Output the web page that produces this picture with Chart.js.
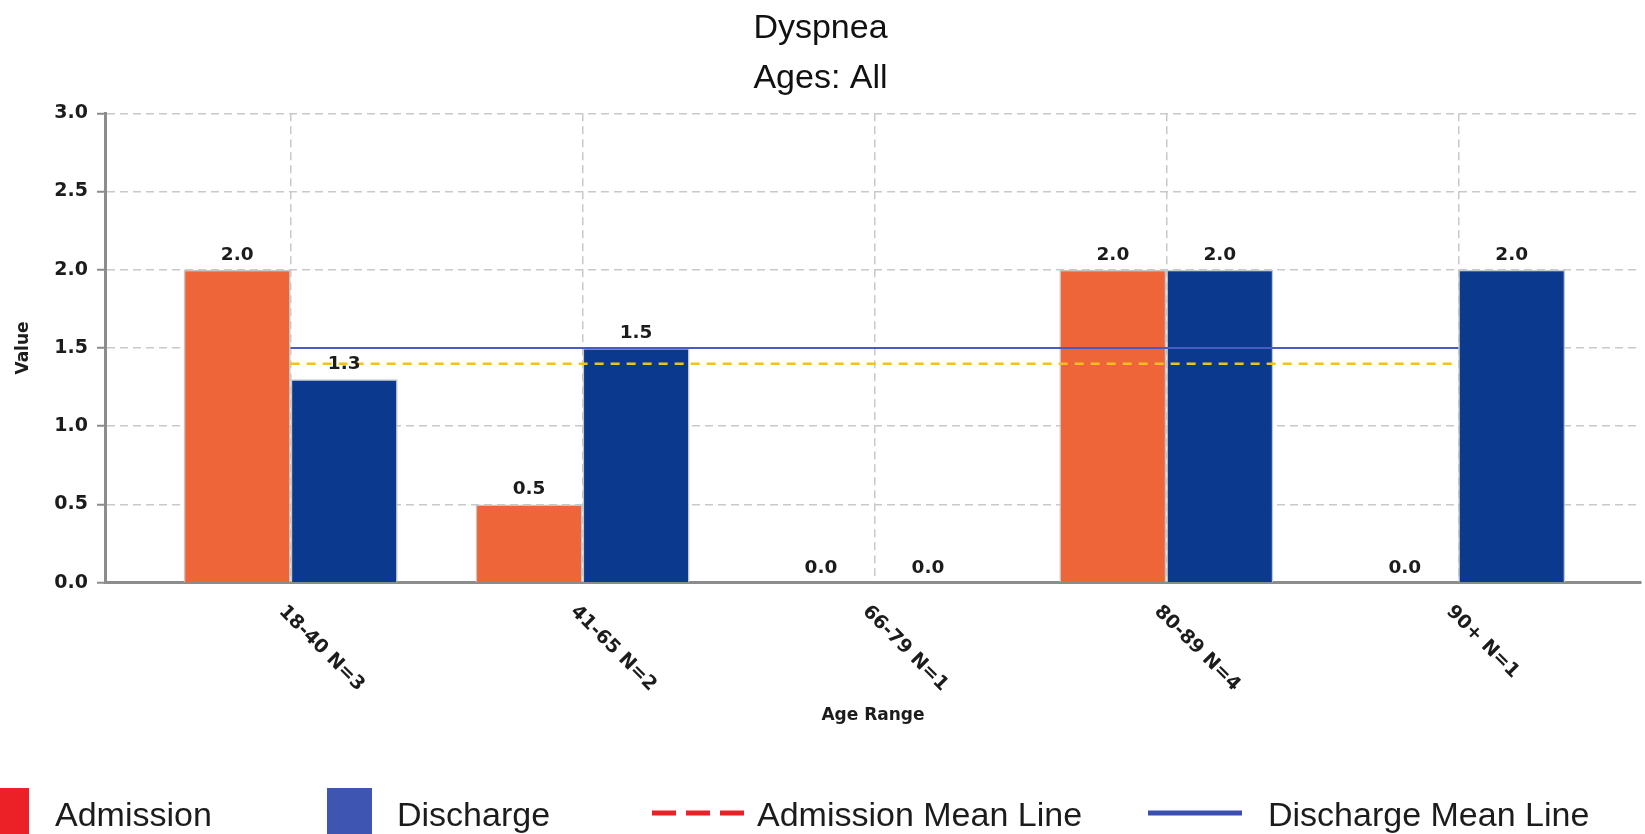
<!DOCTYPE html>
<html>
<head>
<meta charset="utf-8">
<script src="https://cdn.jsdelivr.net/npm/chart.js@4/dist/chart.umd.min.js"></script>
<style>
  html, body { margin: 0; padding: 0; background: #ffffff; }
  #wrap { width: 1645px; height: 834px; position: relative; overflow: hidden; }
  canvas { display: block; }
</style>
</head>
<body>
<div id="wrap"><canvas id="chart" width="1645" height="834"></canvas></div>
<script>
// ---- data ----
const titleLines = ['Dyspnea', 'Ages: All'];
const categories = ['18-40 N=3', '41-65 N=2', '66-79 N=1', '80-89 N=4', '90+ N=1'];
const admissionValues = [2.0, 0.5, 0.0, 2.0, 0.0];
const dischargeValues = [1.3, 1.5, 0.0, 2.0, 2.0];
const admissionMean = 1.4;
const dischargeMean = 1.5;
const yTickValues = [0, 0.5, 1.0, 1.5, 2.0, 2.5, 3.0];
const xAxisTitle = 'Age Range';
const yAxisTitle = 'Value';

// ---- helpers ----
const catIndex = categories.map((_, i) => i);
const TEXT = '#1c1c1c';

const valueLabels = {
  id: 'valueLabels',
  afterDatasetsDraw(chart) {
    const ctx = chart.ctx;
    ctx.save();
    ctx.font = 'bold 18.5px "DejaVu Sans"';
    ctx.fillStyle = TEXT;
    ctx.textAlign = 'center';
    ctx.textBaseline = 'middle';
    chart.data.datasets.forEach((ds, di) => {
      if (ds.type !== 'bar') return;
      const meta = chart.getDatasetMeta(di);
      meta.data.forEach((el, i) => {
        ctx.fillText(ds.data[i].y.toFixed(1), el.x, el.y - 15);
      });
    });
    ctx.restore();
  }
};

const slantedTicks = {
  id: 'slantedTicks',
  afterDraw(chart) {
    const sc = chart.scales.x;
    const ctx = chart.ctx;
    ctx.save();
    ctx.font = 'bold 19px "DejaVu Sans"';
    ctx.fillStyle = TEXT;
    ctx.textAlign = 'left';
    ctx.textBaseline = 'middle';
    sc.ticks.forEach((t, i) => {
      const px = sc.getPixelForTick(i);
      const label = categories[t.value];
      if (label === undefined) return;
      ctx.save();
      ctx.translate(px - 9, sc.top + 26);
      ctx.rotate(Math.PI / 4);
      ctx.fillText(label, 0, 0);
      ctx.restore();
    });
    ctx.restore();
  }
};

const bottomLegend = {
  id: 'bottomLegend',
  afterDraw(chart) {
    const ctx = chart.ctx;
    const layout = [
      { x: -16, w: 45, tx: 55 },
      { x: 327, w: 45, tx: 397 },
      { x: 652, w: 94, tx: 757 },
      { x: 1148, w: 94, tx: 1268 }
    ];
    const cy = 813;
    ctx.save();
    chart.data.datasets.forEach((ds, i) => {
      const L = layout[i];
      if (!L) return;
      if (ds.legendKind === 'box') {
        ctx.fillStyle = ds.legendColor;
        ctx.fillRect(L.x, 788, L.w, 50);
      } else {
        ctx.strokeStyle = ds.legendColor;
        ctx.lineWidth = 5;
        ctx.lineCap = 'butt';
        ctx.setLineDash(ds.legendKind === 'dash' ? [24, 10] : []);
        ctx.beginPath();
        ctx.moveTo(L.x, cy);
        ctx.lineTo(L.x + L.w, cy);
        ctx.stroke();
        ctx.setLineDash([]);
      }
      ctx.font = '34px "Liberation Sans"';
      ctx.fillStyle = TEXT;
      ctx.textAlign = 'left';
      ctx.textBaseline = 'middle';
      ctx.fillText(ds.label, L.tx, 817);
    });
    ctx.restore();
  }
};

new Chart(document.getElementById('chart'), {
  type: 'bar',
  data: {
    datasets: [
      {
        type: 'bar', label: 'Admission',
        data: admissionValues.map((v, i) => ({ x: i, y: v })),
        backgroundColor: '#EF653A', borderColor: '#C6C6C6', borderWidth: 1.5,
        categoryPercentage: 0.733, barPercentage: 1.0, order: 2,
        legendKind: 'box', legendColor: '#EC2027'
      },
      {
        type: 'bar', label: 'Discharge',
        data: dischargeValues.map((v, i) => ({ x: i, y: v })),
        backgroundColor: '#0B398E', borderColor: '#C6C6C6', borderWidth: 1.5,
        categoryPercentage: 0.733, barPercentage: 1.0, order: 2,
        legendKind: 'box', legendColor: '#3E55B1'
      },
      {
        type: 'line', label: 'Admission Mean Line',
        data: catIndex.map(i => ({ x: i, y: admissionMean })),
        borderColor: '#F5BF22', borderWidth: 2.5, borderDash: [9, 7],
        pointRadius: 0, fill: false, order: 1,
        legendKind: 'dash', legendColor: '#EC2027'
      },
      {
        type: 'line', label: 'Discharge Mean Line',
        data: catIndex.map(i => ({ x: i, y: dischargeMean })),
        borderColor: '#4A5CC4', borderWidth: 2, pointRadius: 0, fill: false, order: 1,
        legendKind: 'line', legendColor: '#3A4FB2'
      }
    ]
  },
  options: {
    responsive: false,
    animation: false,
    devicePixelRatio: 1,
    layout: { padding: { left: 0, right: 4, top: 0, bottom: 0 } },
    plugins: {
      legend: { display: false },
      tooltip: { enabled: false },
      title: {
        display: true,
        text: titleLines,
        color: '#111111',
        font: { family: 'Liberation Sans', size: 34, weight: 'normal', lineHeight: 50 / 34 },
        padding: { top: 3.5, bottom: 9.8 }
      }
    },
    scales: {
      x: {
        type: 'linear',
        min: -0.636, max: 4.626,
        offset: false,
        afterBuildTicks: s => { s.ticks = catIndex.map(v => ({ value: v })); },
        afterFit: s => { s.height = 834 - 582.7; },
        ticks: { display: false, callback: v => categories[v] ?? '' },
        grid: { offset: false, color: '#C9C9C9', lineWidth: 1.5, drawTicks: false, borderDash: [8, 5] },
        border: { display: true, color: '#8C8C8C', width: 3, dash: [8, 5] },
        title: {
          display: true, text: xAxisTitle, color: TEXT,
          font: { family: 'DejaVu Sans', weight: 'bold', size: 17 },
          padding: { top: 0, bottom: 107.8 }
        }
      },
      y: {
        min: 0, max: 3,
        afterBuildTicks: s => { s.ticks = yTickValues.map(v => ({ value: v })); },
        afterFit: s => { s.width = 105; },
        ticks: {
          callback: v => Number(v).toFixed(1),
          color: TEXT, padding: 9,
          font: { family: 'DejaVu Sans', weight: 'bold', size: 19 }
        },
        grid: {
          color: '#C9C9C9', lineWidth: 1.5, borderDash: [8, 5],
          tickColor: '#8C8C8C', tickWidth: 2, tickLength: 8, tickBorderDash: []
        },
        border: { display: true, color: '#8C8C8C', width: 3, dash: [8, 5] },
        title: {
          display: true, text: yAxisTitle, color: TEXT,
          font: { family: 'DejaVu Sans', weight: 'bold', size: 17 },
          padding: { top: 13, bottom: 0 }
        }
      }
    }
  },
  plugins: [valueLabels, slantedTicks, bottomLegend]
});
</script>
</body>
</html>
